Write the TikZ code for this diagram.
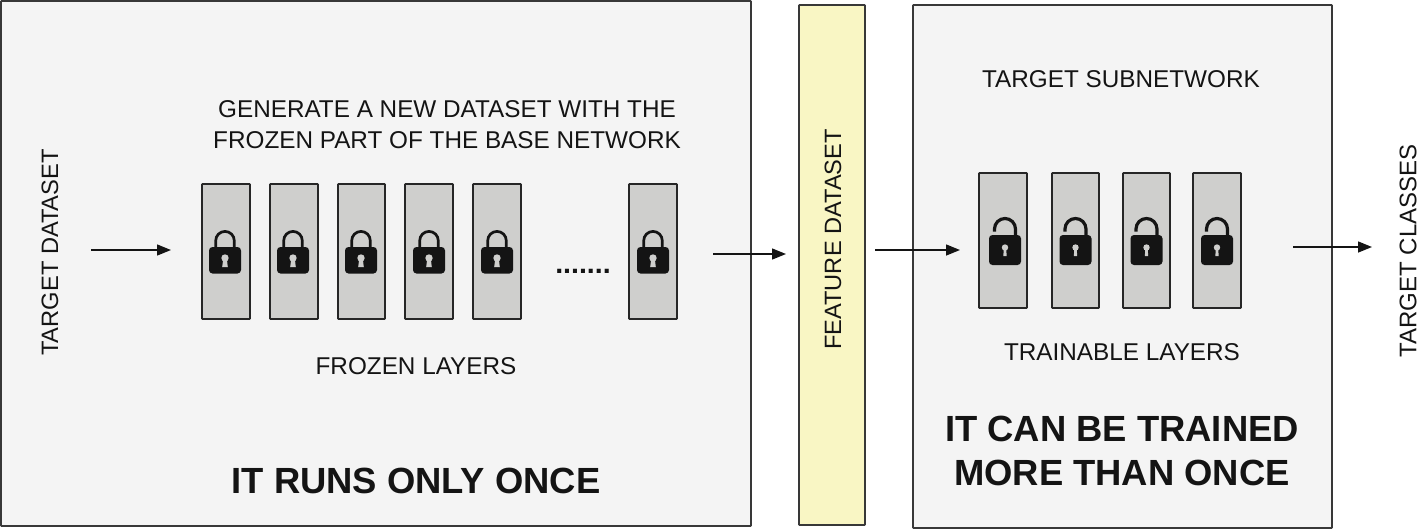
\documentclass[tikz,border=0pt]{standalone}
\usepackage{fontspec}
\setmainfont{Liberation Sans}
\usetikzlibrary{arrows.meta}
\newcommand{\fs}[1]{\fontsize{#1}{#1}\selectfont}
\definecolor{panelgrey}{HTML}{F4F4F4}
\definecolor{layergrey}{HTML}{CFCFCD}
\definecolor{paleyellow}{HTML}{F9F6C4}
\definecolor{ink}{HTML}{141414}
\tikzset{
  x=1pt,y=-1pt,
  panel/.style={draw=black!78,line width=1.7pt,fill=panelgrey,rounded corners=0.6pt},
  yellowpanel/.style={draw=black!78,line width=1.7pt,fill=paleyellow,rounded corners=0.6pt},
  layerbox/.style={draw=black!85,line width=1.6pt,fill=layergrey,rounded corners=0.5pt},
  flow/.style={-{Triangle[length=14pt,width=11pt]},line width=1.4pt,ink},
  lbl/.style={inner sep=0pt,align=center,font=\fs{24.3},text=ink},
  boldlbl/.style={inner sep=0pt,align=center,font=\fs{36.4}\bfseries,text=ink},
  closedlock/.pic={
    \draw[ink,line width=2.7pt] (-9.3,18) -- (-9.3,10.7) arc[start angle=180,end angle=0,x radius=9.3,y radius=-9.3] -- (9.3,18);
    \fill[ink,rounded corners=3.5pt] (-16,17) rectangle (16,43.5);
    \fill[layergrey] (0,28) circle (3.7pt);
    \fill[layergrey] (-1.7,28) -- (1.7,28) -- (2.8,37) -- (-2.8,37) -- cycle;
  },
  openlock/.pic={
    \draw[ink,line width=3.2pt] (-10.5,13.5) -- (-10.5,11) arc[start angle=180,end angle=0,x radius=10.5,y radius=-10.5] -- (10.5,20);
    \fill[ink,rounded corners=3.5pt] (-16,17) rectangle (16,47);
    \fill[layergrey] (0,29.5) circle (3.2pt);
    \fill[layergrey] (-1.1,30) -- (1.1,30) -- (1.7,38) -- (-1.7,38) -- cycle;
  }
}
\begin{document}
\begin{tikzpicture}
\useasboundingbox (0,0) rectangle (1419,531);
\fill[white] (0,0) rectangle (1419,531);
% panels
\draw[panel] (1,1) rectangle (751,526);
\draw[yellowpanel] (799,5) rectangle (865,525);
\draw[panel] (913,5) rectangle (1332,528);
% left layers
\foreach \n/\xa/\xb/\xl in {1/202/250/225,2/270/318/293,3/338/385/361,4/405/453/429,5/473/521/497,6/629/677/653}{
  \draw[layerbox] (\xa,184) rectangle (\xb,319);
  \pic at (\xl,230) {closedlock};
}
% right layers
\foreach \n/\xa/\xb/\xl in {1/979/1027/1005,2/1052/1099/1075.5,3/1123/1170/1146.5,4/1193/1241/1217}{
  \draw[layerbox] (\xa,173) rectangle (\xb,308);
  \pic at (\xl,218) {openlock};
}
% labels
\node[lbl,rotate=90,font=\fs{23.7}] (targetdata) at (50,252.5) {TARGET DATASET};
\node[lbl] (generate) at (447,125) {GENERATE A NEW DATASET WITH THE\\[6.6pt]FROZEN PART OF THE BASE NETWORK};
\node[lbl] (frozen) at (416,366) {FROZEN LAYERS};
\node[lbl,font=\fs{28.5}\bfseries] (dots) at (583,271.5) {.......};
\node[boldlbl] (once) at (416,481) {IT RUNS ONLY ONCE};
\node[lbl,rotate=90,font=\fs{23.6}] (feature) at (833,239.5) {FEATURE DATASET};
\node[lbl] (subnet) at (1121,79) {TARGET SUBNETWORK};
\node[lbl] (trainable) at (1122,352) {TRAINABLE LAYERS};
\node[boldlbl] (more) at (1122,451) {IT CAN BE TRAINED\\[7pt]MORE THAN ONCE};
\node[lbl,rotate=90,font=\fs{24}] (classes) at (1408,251) {TARGET CLASSES};
% connectors
\coordinate (a1) at (91,250); \coordinate (a2) at (171,250);
\coordinate (b1) at (713,254); \coordinate (b2) at (786,254);
\coordinate (c1) at (875,250); \coordinate (c2) at (960,250);
\coordinate (d1) at (1293,247); \coordinate (d2) at (1372,247);
\draw[flow] (a1) -- (a2);
\draw[flow] (b1) -- (b2);
\draw[flow] (c1) -- (c2);
\draw[flow] (d1) -- (d2);
\end{tikzpicture}
\end{document}
